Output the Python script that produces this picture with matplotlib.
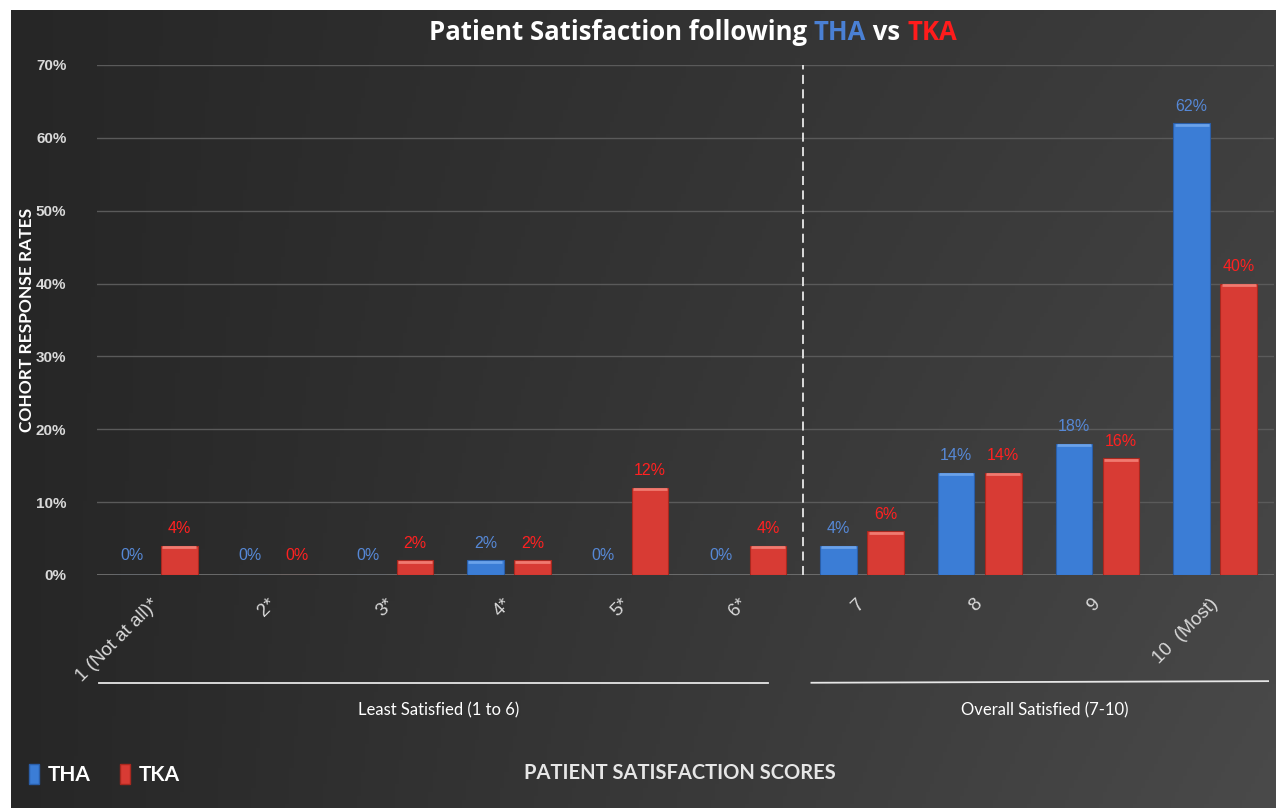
import numpy as np
import matplotlib
matplotlib.use("Agg")
import matplotlib.pyplot as plt
import matplotlib.transforms as mtransforms
from matplotlib.lines import Line2D
from matplotlib.patches import Patch
from matplotlib.offsetbox import TextArea, HPacker, AnchoredOffsetbox

# data (percent of cohort)
scores = ["1 (Not at all)*", "2*", "3*", "4*", "5*", "6*", "7", "8", "9", "10  (Most)"]
tha = [0, 0, 0, 2, 0, 0, 4, 14, 18, 62]
tka = [4, 0, 2, 2, 12, 4, 6, 14, 16, 40]
yticks = [0, 10, 20, 30, 40, 50, 60, 70]
groups = ["Least Satisfied (1 to 6)", "Overall Satisfied (7-10)"]

BLUE = "#3b7dd6"
RED = "#d83b34"
BLUE_TXT = "#5688d6"
RED_TXT = "#ff2121"
TXT = "#d9d9d9"

fig = plt.figure(figsize=(12.76, 8.08), dpi=100, facecolor="white")

# dark gradient background, with the thin white margin on top / left
bg = fig.add_axes([11 / 1276, 0, 1 - 11 / 1276, 1 - 10 / 808], zorder=-10)
gx, gy = np.meshgrid(np.linspace(0, 1, 300), np.linspace(0, 1, 200))
shade = 0.15 + 0.09 * gx + 0.05 * gy * gx
bg.imshow(np.dstack([shade] * 3), aspect="auto", extent=[0, 1, 0, 1], origin="upper")
bg.axis("off")

ax = fig.add_axes([97 / 1276, 1 - 575 / 808, 1177 / 1276, 510 / 808])
ax.patch.set_alpha(0)

x = np.arange(len(scores))
w = 0.31
off = 0.2
b1 = ax.bar(x - off, tha, w, color=BLUE, edgecolor="#2a5ea8", linewidth=0.8, zorder=3)
b2 = ax.bar(x + off, tka, w, color=RED, edgecolor="#a8281f", linewidth=0.8, zorder=3)

# light top edge, like the bevel on the original bars
for bars, top in [(b1, "#6aa2ea"), (b2, "#f07a70")]:
    for r in bars:
        if r.get_height() > 0:
            ax.plot([r.get_x() + 0.01, r.get_x() + r.get_width() - 0.01],
                    [r.get_height() - 0.2] * 2, color=top, lw=2, zorder=4,
                    solid_capstyle="butt")

for bars, vals, col in [(b1, tha, BLUE_TXT), (b2, tka, RED_TXT)]:
    for r, v in zip(bars, vals):
        ax.annotate(f"{v}%", (r.get_x() + r.get_width() / 2, v),
                    xytext=(0, 7 if v > 0 else 9), textcoords="offset points",
                    ha="center", va="bottom", color=col, fontsize=11.5,
                    family="Liberation Sans")

ax.set_xlim(-0.5, len(scores) - 0.5)
ax.set_ylim(0, 70)
ax.set_yticks(yticks)
ax.set_yticklabels([f"{t}%" for t in yticks], color=TXT, fontsize=11,
                   fontweight="bold", family="Liberation Sans")
ax.set_xticks(x)
ax.set_xticklabels(scores, rotation=45, ha="right", va="center", rotation_mode="anchor",
                   color=TXT, fontsize=13.5, family="Liberation Sans")
ax.tick_params(length=0, axis="y", pad=22)
ax.tick_params(length=0, axis="x", pad=19)
for s in ax.spines.values():
    s.set_visible(False)
ax.grid(axis="y", color="#5a5a5a", linewidth=1, zorder=0)
ax.axhline(0, color="#7a7a7a", linewidth=1.2, zorder=1)

# split between the two satisfaction groups
ax.axvline(5.5, color="#e8e8e8", linestyle=(0, (5, 3)), linewidth=1.3, zorder=2)

# group underlines and captions below the tick labels
tr = mtransforms.blended_transform_factory(ax.transData, fig.transFigure)
fig.add_artist(Line2D([-0.48, 5.2], [0.155, 0.155], transform=tr, color="#e6e6e6", lw=1.3))
fig.add_artist(Line2D([5.57, 9.45], [0.155, 0.157], transform=tr, color="#e6e6e6", lw=1.3))
fig.text(2.4, 0.121, groups[0], transform=tr, ha="center", va="center",
         color="white", fontsize=12, family="Lato")
fig.text(7.55, 0.121, groups[1], transform=tr, ha="center", va="center",
         color="white", fontsize=12, family="Lato")

fig.text(0.533, 0.043, "PATIENT SATISFACTION SCORES", ha="center", va="center",
         color="#e6e6e6", fontsize=14.5, fontweight="bold", family="Lato")
fig.text(0.021, 0.604, "COHORT RESPONSE RATES", rotation=90, ha="center", va="center",
         color="white", fontsize=12.5, fontweight="bold", family="Lato")

# multi-coloured title
tp = dict(fontsize=18.5, fontweight="bold", family="Open Sans")
parts = [TextArea("Patient Satisfaction following ", textprops=dict(color="white", **tp)),
         TextArea("THA", textprops=dict(color="#4a80d4", **tp)),
         TextArea(" vs ", textprops=dict(color="white", **tp)),
         TextArea("TKA", textprops=dict(color="#ff1c1c", **tp))]
title = AnchoredOffsetbox(loc="center", child=HPacker(children=parts, align="baseline", pad=0, sep=0),
                          pad=0, borderpad=0, frameon=False,
                          bbox_to_anchor=(0.543, 0.96), bbox_transform=fig.transFigure)
fig.add_artist(title)

handles = [Patch(facecolor=BLUE, edgecolor="#2a5ea8", label="THA"),
           Patch(facecolor=RED, edgecolor="#a8281f", label="TKA")]
leg = fig.legend(handles=handles, loc="lower left", bbox_to_anchor=(0.008, 0.005),
                 ncol=2, frameon=False, handlelength=0.5, handleheight=1.1,
                 handletextpad=0.4, columnspacing=1.4,
                 prop=dict(family="Lato", size=15, weight="bold"))
for t in leg.get_texts():
    t.set_color("white")

fig.savefig("out.png", dpi=100, facecolor="white")
